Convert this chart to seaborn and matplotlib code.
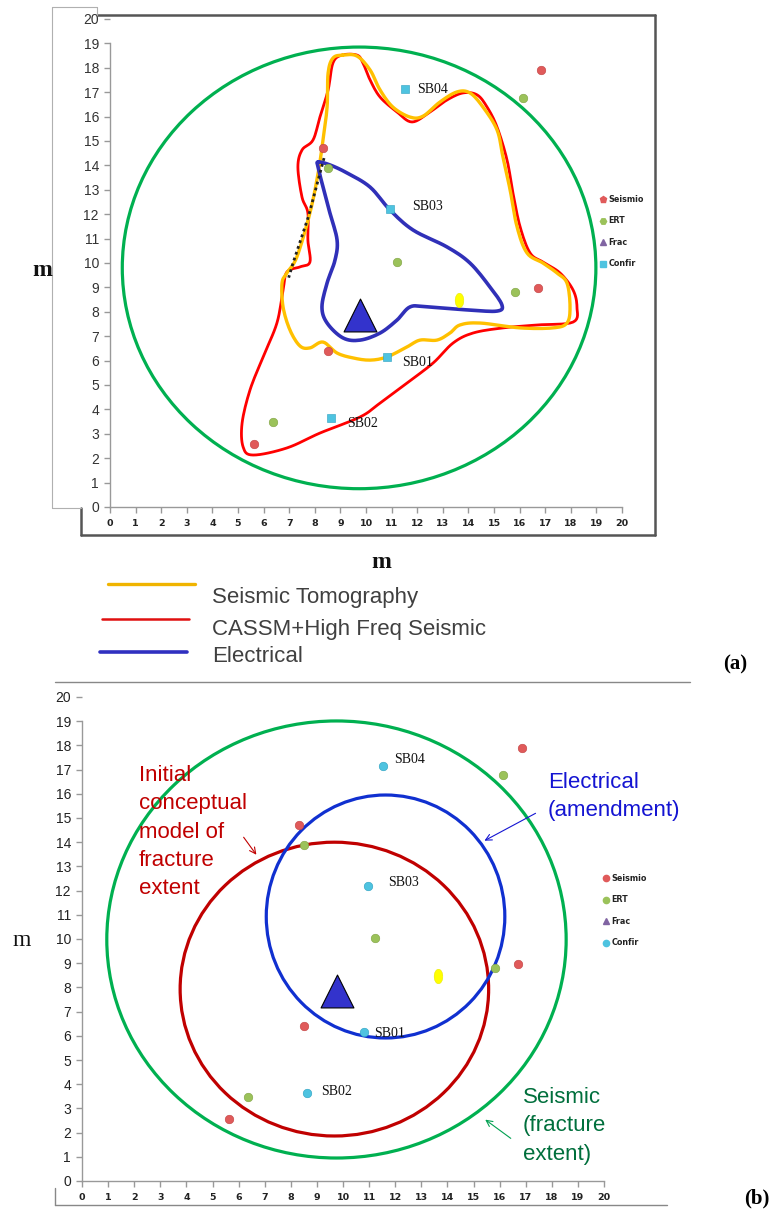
import numpy as np
import pandas as pd
import matplotlib
matplotlib.use("Agg")
import matplotlib.pyplot as plt
import seaborn as sns
from matplotlib.lines import Line2D
from matplotlib.patches import Ellipse, FancyArrowPatch
from matplotlib.path import Path

# ---------------- data ----------------
seismio_x = [16.84, 8.32, 8.52, 5.63, 16.72]
seismio_y = [17.90, 14.70, 6.39, 2.58, 8.98]
ert_x = [16.13, 8.52, 11.21, 15.82, 6.37]
ert_y = [16.76, 13.89, 10.04, 8.81, 3.48]
confir_x = [11.52, 10.94, 10.82, 8.63]
confir_y = [17.13, 12.21, 6.15, 3.65]
confir_labels = ["SB04", "SB03", "SB01", "SB02"]
frac_x = [9.77]
frac_y = [7.87]
yellow_x = [13.63]
yellow_y = [8.48]
legend_labels = ["Seismio", "ERT", "Frac", "Confir"]

tomo_x = [9.10, 9.65, 10.16, 10.55, 11.05, 11.72, 12.23, 12.89, 13.55, 14.06, 14.57, 15.12, 15.35,
          15.63, 15.90, 16.29, 16.91, 17.46, 17.85, 17.97, 17.85, 17.30, 16.02, 14.45, 13.67, 13.28,
          12.77, 12.11, 11.60, 10.82, 10.16, 9.49, 8.87, 8.32, 7.81, 7.42, 7.03, 6.76, 6.72, 6.91,
          7.30, 7.81, 8.13, 8.32, 8.48, 8.52, 8.71]
tomo_y = [18.52, 18.48, 17.91, 17.09, 16.39, 15.98, 16.02, 16.60, 17.01, 16.97, 16.39, 15.45, 14.34,
          12.99, 11.48, 10.41, 10.00, 9.59, 9.18, 8.20, 7.54, 7.34, 7.34, 7.54, 7.46, 7.13,
          6.84, 6.84, 6.56, 6.15, 6.02, 6.11, 6.31, 6.76, 6.52, 6.60, 7.25, 8.20, 9.18, 9.59,
          10.25, 12.05, 13.69, 15.04, 16.39, 17.79, 18.40]
cassm_x = [9.06, 9.65, 9.88, 10.16, 10.55, 11.21, 11.80, 12.50, 13.16, 13.79, 14.34, 14.73, 15.12,
           15.51, 15.74, 16.02, 16.41, 16.91, 17.58, 18.09, 18.24, 18.09, 16.68, 15.35, 14.18, 13.40,
           12.62, 11.60, 10.55, 9.77, 8.20, 6.91, 5.59, 5.20, 5.16, 5.47, 5.98, 6.52, 6.76, 6.91,
           7.42, 7.81, 7.73, 7.73, 7.50, 7.34, 7.50, 7.93, 8.20, 8.52, 8.71]
cassm_y = [18.52, 18.52, 18.20, 17.50, 16.80, 16.19, 15.78, 16.19, 16.68, 16.97, 16.89, 16.39, 15.57,
           14.22, 12.87, 11.48, 10.41, 10.04, 9.59, 8.89, 8.20, 7.58, 7.46, 7.34, 7.13, 6.72,
           5.90, 5.08, 4.26, 3.69, 3.03, 2.42, 2.13, 2.46, 3.44, 4.80, 6.15, 7.54, 8.89, 9.63,
           9.84, 10.04, 10.94, 12.05, 12.70, 13.93, 14.63, 15.04, 15.98, 17.09, 18.20]
elec_x = [8.13, 8.59, 9.26, 10.16, 10.94, 11.84, 13.16, 14.06, 14.84, 15.31, 15.12, 14.06, 12.38,
          11.72, 11.21, 10.55, 9.77, 9.10, 8.48, 8.28, 8.48, 8.79, 8.87, 8.59, 8.32, 8.13]
elec_y = [14.14, 14.02, 13.69, 13.11, 12.17, 11.35, 10.66, 10.00, 9.02, 8.28, 8.03, 8.07, 8.20,
          8.20, 7.66, 7.13, 6.84, 6.93, 7.54, 8.20, 9.18, 10.12, 10.94, 12.05, 13.11, 13.93]
dotted_x = [8.36, 7.75, 7.15, 6.98]
dotted_y = [14.30, 11.90, 10.00, 9.40]

# circles (center x, center y, half-width, half-height) in data units
circle_a_green = (9.73, 9.80, 9.25, 9.05)
circle_b_green = (9.75, 9.98, 8.80, 9.03)
circle_b_red = (9.67, 7.93, 5.91, 6.07)
circle_b_blue = (11.63, 10.93, 4.57, 5.02)

ticks = list(range(0, 21))

# ---------------- style ----------------
sns.set_theme(style="white")
plt.rcParams["font.family"] = ["Liberation Sans", "DejaVu Sans"]

W, H = 775, 1220
fig = plt.figure(figsize=(7.75, 12.2), dpi=100)
fig.patch.set_facecolor("white")


def fx(px):
    return px / W


def fy(py):
    return 1 - py / H


C_SEIS = "#e05a5a"
C_ERT = "#9bc25a"
C_CONF = "#4ec3e0"
C_FRAC = "#3333cc"
C_FRAC_LEG = "#8064a2"


def smooth_closed(x, y, n=8):
    P = np.column_stack([x, y])
    N = len(P)
    out = []
    t = np.linspace(0, 1, n, endpoint=False)[:, None]
    for i in range(N):
        p0, p1, p2, p3 = P[(i - 1) % N], P[i], P[(i + 1) % N], P[(i + 2) % N]
        pts = 0.5 * ((2 * p1) + (-p0 + p2) * t + (2 * p0 - 5 * p1 + 4 * p2 - p3) * t ** 2
                     + (-p0 + 3 * p1 - 3 * p2 + p3) * t ** 3)
        out.append(pts)
    out.append(P[:1])
    S = np.vstack(out)
    return S[:, 0], S[:, 1]


theta = np.linspace(0, 2 * np.pi, 60, endpoint=False)
ell_marker = Path(np.column_stack([0.6 * np.cos(theta), np.sin(theta)]))


def style_axes(ax, ylab_size, ylab_color):
    ax.set_xlim(0, 20)
    ax.set_ylim(0, 20)
    ax.set_xticks(ticks)
    ax.set_yticks(ticks)
    ax.set_xticklabels([str(t) for t in ticks])
    ax.set_yticklabels([str(t) for t in ticks])
    for s in ["top", "right"]:
        ax.spines[s].set_visible(False)
    for s in ["left", "bottom"]:
        ax.spines[s].set_color("#999999")
        ax.spines[s].set_linewidth(1.0)
    ax.spines["left"].set_bounds(0, 19)
    ax.tick_params(axis="y", direction="out", length=4, width=1, color="#999999",
                   labelsize=ylab_size, labelcolor=ylab_color, pad=4, left=True)
    ax.tick_params(axis="x", direction="out", length=4, width=1, color="#999999",
                   labelsize=6.8, labelcolor="#222222", pad=5, bottom=True)
    for lab in ax.get_xticklabels():
        lab.set_fontweight("bold")
        lab.set_family("DejaVu Sans")
    ax.set_xlabel("")
    ax.set_ylabel("")
    ax.grid(False)
    ax.set_facecolor("none")


def draw_points(ax, conf_marker, conf_size, label_offsets):
    df_s = pd.DataFrame({"x": seismio_x, "y": seismio_y})
    df_e = pd.DataFrame({"x": ert_x, "y": ert_y})
    df_c = pd.DataFrame({"x": confir_x, "y": confir_y})
    sns.scatterplot(data=df_s, x="x", y="y", ax=ax, color=C_SEIS, s=38, marker="o",
                    edgecolor="#c04040", linewidth=0.4, zorder=5, legend=False)
    sns.scatterplot(data=df_e, x="x", y="y", ax=ax, color=C_ERT, s=38, marker="o",
                    edgecolor="#7ea040", linewidth=0.4, zorder=5, legend=False)
    sns.scatterplot(data=df_c, x="x", y="y", ax=ax, color=C_CONF, s=conf_size, marker=conf_marker,
                    edgecolor="#2aa0c0", linewidth=0.4, zorder=5, legend=False)
    sns.scatterplot(x=yellow_x, y=yellow_y, ax=ax, color="#ffff00", s=110, marker=ell_marker,
                    edgecolor="#e0e000", linewidth=0.3, zorder=5, legend=False)
    sns.scatterplot(x=frac_x, y=frac_y, ax=ax, color=C_FRAC, s=560, marker="^",
                    edgecolor="black", linewidth=0.8, zorder=6, legend=False)
    for xx, yy, lab, off in zip(confir_x, confir_y, confir_labels, label_offsets):
        ax.annotate(lab, (xx, yy), xytext=off, textcoords="offset points",
                    fontsize=10, family="Liberation Serif", color="#111111",
                    ha="left", va="center", zorder=7)


def point_legend(ax, anchor, markers):
    handles = [
        Line2D([], [], ls="none", marker=markers[0], color=C_SEIS, markersize=4.5),
        Line2D([], [], ls="none", marker=markers[1], color=C_ERT, markersize=4.5),
        Line2D([], [], ls="none", marker="^", color=C_FRAC_LEG, markersize=4.5),
        Line2D([], [], ls="none", marker=markers[2], color=C_CONF, markersize=4.5),
    ]
    leg = ax.legend(handles, legend_labels, loc="upper left", bbox_to_anchor=anchor,
                    bbox_transform=fig.transFigure, frameon=False,
                    prop={"family": "DejaVu Sans", "weight": "bold", "size": 5.8},
                    handlelength=0.6, handletextpad=0.3, labelspacing=1.55,
                    borderaxespad=0, borderpad=0)
    for t in leg.get_texts():
        t.set_color("#222222")


# ---------------- panel (a) ----------------
axA = fig.add_axes([fx(110), fy(507), 512 / W, 488 / H])
style_axes(axA, 10, "#333333")

cx, cy, rx, ry = circle_a_green
axA.add_patch(Ellipse((cx, cy), 2 * rx, 2 * ry, fill=False, ec="#00b050", lw=2.3, zorder=3))

for xs, ys, col, lw in [(cassm_x, cassm_y, "#ff0000", 2.0),
                        (tomo_x, tomo_y, "#ffc000", 2.4),
                        (elec_x, elec_y, "#3030b8", 2.6)]:
    sx, sy = smooth_closed(xs, ys)
    sns.lineplot(x=sx, y=sy, ax=axA, sort=False, estimator=None, color=col, lw=lw, zorder=4)
sns.lineplot(x=dotted_x, y=dotted_y, ax=axA, sort=False, estimator=None, color="#222222",
             lw=2.0, ls=(0, (1, 1.2)), zorder=4.5)

draw_points(axA, "s", 28, [(9, 0), (16, 2), (11, -4), (12, -4)])
point_legend(axA, (fx(601), fy(195)), ["p", "H", "s"])
axA.set_xlabel("")
axA.set_ylabel("")

# frame around panel (a)
frame_dark = [((97, 15), (655, 15)), ((655, 15), (655, 535)), ((81, 535), (655, 535)),
              ((81, 508), (81, 535))]
for (x0, y0), (x1, y1) in frame_dark:
    fig.add_artist(Line2D([fx(x0), fx(x1)], [fy(y0), fy(y1)], color="#555555", lw=1.8))
frame_light = [((52, 7), (97, 7)), ((52, 7), (52, 508)), ((52, 508), (81, 508)), ((97, 7), (97, 15))]
for (x0, y0), (x1, y1) in frame_light:
    fig.add_artist(Line2D([fx(x0), fx(x1)], [fy(y0), fy(y1)], color="#b0b0b0", lw=0.8))

fig.text(fx(42), fy(270), "m", fontsize=17, fontweight="bold", family="Liberation Serif",
         ha="center", va="center", color="#111111")
fig.text(fx(381), fy(563), "m", fontsize=17, fontweight="bold", family="Liberation Serif",
         ha="center", va="center", color="#111111")

# line legend under (a)
for (x0, x1, yy, col, lw) in [(108, 195, 584, "#f0b400", 2.4), (102, 189, 619, "#e01010", 1.8),
                              (100, 187, 652, "#3030c0", 2.6)]:
    fig.add_artist(Line2D([fx(x0), fx(x1)], [fy(yy), fy(yy)], color=col, lw=lw))
for txt, yy in [("Seismic Tomography", 598), ("CASSM+High Freq Seismic", 629), ("Electrical", 657)]:
    fig.text(fx(212), fy(yy), txt, fontsize=16, color="#404040", ha="left", va="center")

fig.text(fx(735), fy(664), "(a)", fontsize=15, fontweight="bold", family="Liberation Serif",
         ha="center", va="center", color="black")

# ---------------- panel (b) ----------------
axB = fig.add_axes([fx(82), fy(1181), 522 / W, 484 / H])
style_axes(axB, 10, "#222222")

for (cx, cy, rx, ry), col in [(circle_b_green, "#00b050"), (circle_b_red, "#c00000"),
                              (circle_b_blue, "#1030d0")]:
    axB.add_patch(Ellipse((cx, cy), 2 * rx, 2 * ry, fill=False, ec=col, lw=2.3, zorder=3))

draw_points(axB, "o", 38, [(8, 5), (15, 2), (7, -1), (10, 1)])
point_legend(axB, (fx(604), fy(874)), ["o", "o", "o"])
axB.set_xlabel("")
axB.set_ylabel("")

fig.text(fx(139), fy(765), "Initial\nconceptual\nmodel of\nfracture\nextent", fontsize=16,
         color="#c00000", ha="left", va="top", linespacing=1.46)
fig.text(fx(548), fy(772), "Electrical\n(amendment)", fontsize=16, color="#1414d2",
         ha="left", va="top", linespacing=1.46)
fig.text(fx(523), fy(1087), "Seismic\n(fracture\nextent)", fontsize=16, color="#006f3c",
         ha="left", va="top", linespacing=1.46)

for (x0, y0), (x1, y1), col in [((242, 835), (258, 857), "#c00000"),
                                ((538, 812), (482, 842), "#1414d2"),
                                ((513, 1140), (483, 1118), "#00a050")]:
    fig.add_artist(FancyArrowPatch((fx(x0), fy(y0)), (fx(x1), fy(y1)), transform=fig.transFigure,
                                   arrowstyle="->", mutation_scale=11, color=col, lw=0.8))

for (x0, y0), (x1, y1) in [((55, 682), (690, 682)), ((55, 1205), (667, 1205)), ((55, 1188), (55, 1205))]:
    fig.add_artist(Line2D([fx(x0), fx(x1)], [fy(y0), fy(y1)], color="#888888", lw=1.0))

fig.text(fx(22), fy(940), "m", fontsize=17, family="Liberation Serif",
         ha="center", va="center", color="#111111")
fig.text(fx(757), fy(1198), "(b)", fontsize=15, fontweight="bold", family="Liberation Serif",
         ha="center", va="center", color="black")

fig.savefig("out.png", dpi=100)
